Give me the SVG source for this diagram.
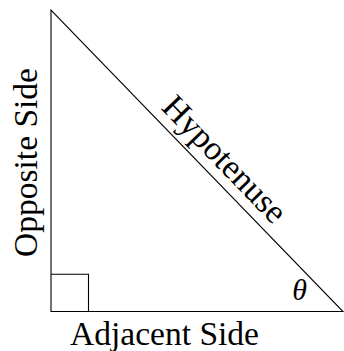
<svg xmlns="http://www.w3.org/2000/svg" width="344" height="351" viewBox="0 0 344 351">
<style>
.ln{fill:none;stroke:#000;stroke-width:1.1}
.lbl{font-family:'Liberation Serif','DejaVu Serif','Times New Roman',serif;font-size:34px;fill:#000;text-anchor:middle}
.th{font-family:'Liberation Serif','DejaVu Serif','Times New Roman',serif;font-size:30px;font-style:italic;fill:#000;text-anchor:middle}
</style>
<rect width="344" height="351" fill="#fff"/>
<g id="connectors">
<path class="ln" d="M51 10 L51 311.5 L343 311.5 Z"/>
</g>
<g id="right-angle"><path class="ln" d="M51 274.3 L88.5 274.3 L88.5 311.5"/></g>
<g id="opposite"><text class="lbl" font-family="Liberation Serif, serif" transform="translate(36.5 162.5) rotate(-90)" textLength="189" lengthAdjust="spacingAndGlyphs">Opposite Side</text></g>
<g id="adjacent"><text class="lbl" font-family="Liberation Serif, serif" x="164.5" y="345" textLength="189" lengthAdjust="spacingAndGlyphs">Adjacent Side</text></g>
<g id="hypotenuse"><text class="lbl" font-family="Liberation Serif, serif" transform="translate(216.8 167) rotate(45.97)">Hypotenuse</text></g>
<g id="theta"><text class="th" font-family="Liberation Serif, serif" x="299.5" y="300">θ</text></g>
</svg>
